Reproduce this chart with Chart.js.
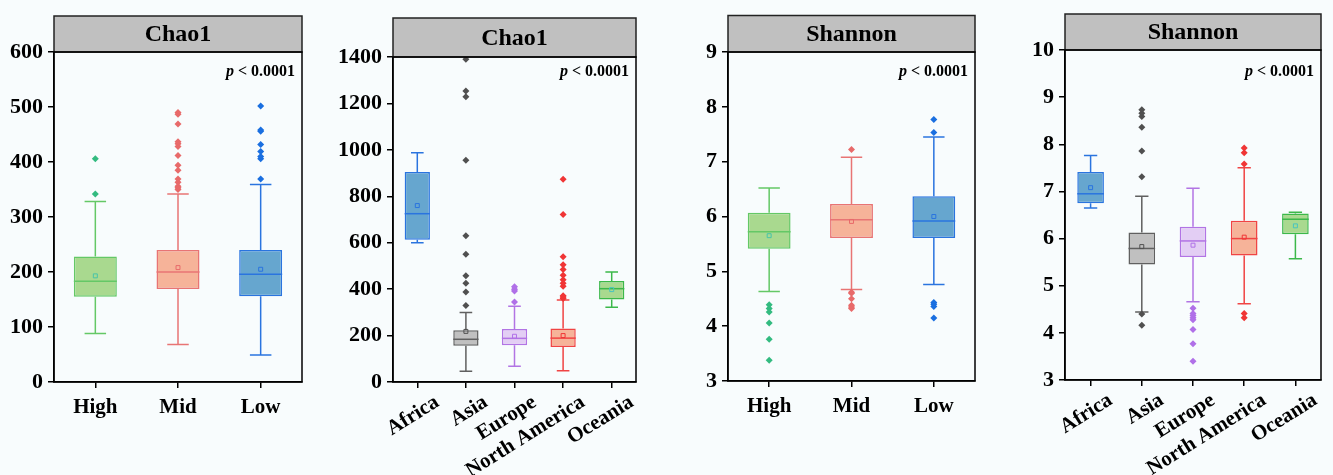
<!DOCTYPE html>
<html>
<head>
<meta charset="utf-8">
<script src="https://cdn.jsdelivr.net/npm/chart.js@4.4.1/dist/chart.umd.min.js"></script>
<style>
  body { margin: 0; background: #f8fcfd; }
  canvas { position: absolute; top: 0; }
</style>
</head>
<body>
<canvas id="chaoIncome" width="333" height="475" style="left:0px"></canvas>
<canvas id="chaoContinent" width="333" height="475" style="left:333px"></canvas>
<canvas id="shannonIncome" width="334" height="475" style="left:666px"></canvas>
<canvas id="shannonContinent" width="333" height="475" style="left:1000px"></canvas>
<script>
// categories
var incomeGroups = ['High', 'Mid', 'Low'];
var continents = ['Africa', 'Asia', 'Europe', 'North America', 'Oceania'];

// Chao1 by income
var chaoIncQ1 = [155, 169, 156];
var chaoIncQ3 = [228, 240, 240];
var chaoIncMedian = [183, 200, 196];
var chaoIncMean = [193, 208, 205];
var chaoIncLow = [88, 68, 49];
var chaoIncHigh = [328, 342, 359];
var chaoIncOutliers = [
  [342, 406],
  [350, 353, 356, 363, 369, 385, 394, 412, 428, 433, 437, 469, 487, 490],
  [369, 406, 410, 419, 432, 456, 458, 502]
];

// Chao1 by continent
var chaoConQ1 = [613, 156, 158, 151, 355];
var chaoConQ3 = [905, 223, 228, 231, 435];
var chaoConMedian = [725, 184, 188, 189, 402];
var chaoConMean = [760, 218, 197, 200, 398];
var chaoConLow = [600, 46, 68, 49, 322];
var chaoConHigh = [988, 299, 326, 353, 474];
var chaoConOutliers = [
  [],
  [330, 388, 425, 458, 550, 630, 955, 1229, 1254, 1390],
  [345, 392, 400, 410],
  [360, 366, 372, 412, 425, 440, 460, 485, 505, 540, 722, 873],
  []
];

// Shannon by income
var shanIncQ1 = [5.41, 5.61, 5.61];
var shanIncQ3 = [6.07, 6.23, 6.37];
var shanIncMedian = [5.72, 5.94, 5.92];
var shanIncMean = [5.65, 5.91, 6.00];
var shanIncLow = [4.63, 4.67, 4.76];
var shanIncHigh = [6.52, 7.08, 7.45];
var shanIncOutliers = [
  [4.39, 4.32, 4.26, 4.06, 3.76, 3.38],
  [7.22, 4.62, 4.60, 4.50, 4.38, 4.35, 4.32],
  [7.53, 7.77, 4.43, 4.40, 4.36, 4.15]
];

// Shannon by continent
var shanConQ1 = [6.75, 5.45, 5.61, 5.64, 6.09];
var shanConQ3 = [7.41, 6.13, 6.25, 6.38, 6.53];
var shanConMedian = [6.95, 5.79, 5.95, 6.00, 6.41];
var shanConMean = [7.08, 5.83, 5.86, 6.03, 6.27];
var shanConLow = [6.65, 4.44, 4.66, 4.62, 5.57];
var shanConHigh = [7.76, 6.90, 7.07, 7.50, 6.56];
var shanConOutliers = [
  [],
  [4.40, 4.16, 7.31, 7.86, 8.36, 8.59, 8.66, 8.73],
  [4.52, 4.41, 4.37, 4.32, 4.28, 4.07, 3.77, 3.40],
  [4.41, 4.32, 7.58, 7.82, 7.92],
  []
];

// colours
var incomeFill = ['#a9d98f', '#f6b399', '#66a6cf'];
var incomeLine = ['#64c866', '#e87474', '#2a74df'];
var incomePoint = ['#33bb80', '#e86a6a', '#1a6fe0'];
var incomeMean = ['#48c4a8', '#e86a6a', '#2a74df'];
var continentFill = ['#66a6cf', '#c0c0c0', '#e3cef4', '#f6b399', '#a9d98f'];
var continentLine = ['#2a74df', '#606060', '#b274e4', '#f04444', '#3cb84a'];
var continentPoint = ['#2a74df', '#505050', '#b070e8', '#f03535', '#3cb84a'];
var continentMean = ['#2a74df', '#505050', '#b070e8', '#f03535', '#48c4c0'];

var serif = '"Liberation Serif", "Times New Roman", serif';

function boxExtras(d, titleH) {
  return {
    id: 'boxExtras',
    beforeDatasetsDraw: function(chart) {
      var ctx = chart.ctx, y = chart.scales.y;
      var meta = chart.getDatasetMeta(0);
      ctx.save();
      ctx.lineWidth = 1.5;
      d.q1.forEach(function(v, i) {
        var bar = meta.data[i];
        var cx = bar.x, half = bar.width / 4;
        var yHi = y.getPixelForValue(d.hi[i]), yLo = y.getPixelForValue(d.lo[i]);
        ctx.strokeStyle = d.line[i];
        ctx.beginPath();
        ctx.moveTo(cx, y.getPixelForValue(d.q3[i])); ctx.lineTo(cx, yHi);
        ctx.moveTo(cx, y.getPixelForValue(d.q1[i])); ctx.lineTo(cx, yLo);
        ctx.moveTo(cx - half, yHi); ctx.lineTo(cx + half, yHi);
        ctx.moveTo(cx - half, yLo); ctx.lineTo(cx + half, yLo);
        ctx.stroke();
      });
      ctx.restore();
    },
    afterDatasetDraw: function(chart, args) {
      if (args.index !== 0) return;
      var ctx = chart.ctx, y = chart.scales.y;
      ctx.save();
      ctx.lineWidth = 1.5;
      args.meta.data.forEach(function(bar, i) {
        var py = y.getPixelForValue(d.median[i]);
        ctx.strokeStyle = d.line[i];
        ctx.beginPath();
        ctx.moveTo(bar.x - bar.width / 2, py);
        ctx.lineTo(bar.x + bar.width / 2, py);
        ctx.stroke();
      });
      ctx.restore();
    },
    afterDraw: function(chart) {
      var ctx = chart.ctx, a = chart.chartArea;
      ctx.save();
      // header box
      ctx.fillStyle = '#c0c0c0';
      ctx.fillRect(a.left, a.top - titleH, a.right - a.left, titleH);
      ctx.strokeStyle = '#222';
      ctx.lineWidth = 1.5;
      ctx.strokeRect(a.left, a.top - titleH, a.right - a.left, titleH);
      ctx.fillStyle = '#000';
      ctx.font = 'bold 24px ' + serif;
      ctx.textAlign = 'center';
      ctx.textBaseline = 'middle';
      ctx.fillText(d.title, (a.left + a.right) / 2, a.top - titleH / 2 + 1);
      // frame
      ctx.strokeStyle = '#000';
      ctx.strokeRect(a.left, a.top, a.right - a.left, a.bottom - a.top);
      // p value
      ctx.textBaseline = 'alphabetic';
      ctx.textAlign = 'left';
      ctx.font = 'bold 16px ' + serif;
      var rest = ' < 0.0001';
      var wRest = ctx.measureText(rest).width;
      ctx.font = 'italic bold 16px ' + serif;
      var wP = ctx.measureText('p').width;
      var x0 = a.right - 7 - wRest - wP;
      ctx.fillText('p', x0, 76);
      ctx.font = 'bold 16px ' + serif;
      ctx.fillText(rest, x0 + wP, 76);
      ctx.restore();
    }
  };
}

function makePanel(id, d, lay) {
  var datasets = [{
    type: 'bar',
    data: d.q1.map(function(v, i) { return [v, d.q3[i]]; }),
    backgroundColor: d.fill,
    borderColor: d.line,
    borderWidth: 1.5,
    borderSkipped: false,
    barPercentage: 0.52,
    categoryPercentage: 1,
    order: 3
  }, {
    type: 'line',
    data: d.mean,
    showLine: false,
    pointStyle: 'rect',
    pointRadius: 2.8,
    pointBackgroundColor: 'rgba(0,0,0,0)',
    pointBorderColor: d.meanColor,
    pointBorderWidth: 1,
    order: 1
  }];
  d.outliers.forEach(function(list, i) {
    datasets.push({
      type: 'line',
      data: list.map(function(v) { return { x: d.labels[i], y: v }; }),
      showLine: false,
      pointStyle: 'rectRot',
      pointRadius: 3.5,
      pointBackgroundColor: d.point[i],
      pointBorderWidth: 0,
      order: 2
    });
  });

  new Chart(document.getElementById(id), {
    type: 'bar',
    data: { labels: d.labels, datasets: datasets },
    options: {
      responsive: false,
      animation: false,
      events: [],
      layout: { padding: { left: 0, right: lay.right, top: lay.top, bottom: 0 } },
      plugins: { legend: { display: false }, tooltip: { enabled: false } },
      scales: {
        x: {
          type: 'category',
          offset: true,
          grid: { offset: false, drawOnChartArea: false, tickLength: 6, color: '#000', lineWidth: 1.5 },
          border: { color: '#000', width: 1.5 },
          ticks: {
            color: '#000', font: { family: serif, size: 21, weight: 'bold' },
            padding: lay.rot ? 2 : 7, autoSkip: false,
            minRotation: lay.rot, maxRotation: lay.rot, labelOffset: lay.labelOffset
          },
          afterFit: function(s) { s.height = lay.xH; }
        },
        y: {
          min: d.min, max: d.max,
          grid: { drawOnChartArea: false, tickLength: 6, color: '#000', lineWidth: 1.5 },
          border: { color: '#000', width: 1.5 },
          ticks: {
            stepSize: d.step, color: '#000', font: { family: serif, size: 22, weight: 'bold' }, padding: 5,
            callback: function(v) { return String(v); }
          },
          afterFit: function(s) { s.width = lay.yW; }
        }
      }
    },
    plugins: [boxExtras(d, lay.titleH)]
  });
}

makePanel('chaoIncome', {
  title: 'Chao1', labels: incomeGroups, min: 0, max: 600, step: 100,
  q1: chaoIncQ1, q3: chaoIncQ3, median: chaoIncMedian, mean: chaoIncMean,
  lo: chaoIncLow, hi: chaoIncHigh, outliers: chaoIncOutliers,
  fill: incomeFill, line: incomeLine, point: incomePoint, meanColor: incomeMean
}, { yW: 54, right: 31, top: 52, xH: 93, titleH: 36, rot: 0, labelOffset: 0 });

makePanel('chaoContinent', {
  title: 'Chao1', labels: continents, min: 0, max: 1400, step: 200,
  q1: chaoConQ1, q3: chaoConQ3, median: chaoConMedian, mean: chaoConMean,
  lo: chaoConLow, hi: chaoConHigh, outliers: chaoConOutliers,
  fill: continentFill, line: continentLine, point: continentPoint, meanColor: continentMean
}, { yW: 60, right: 30, top: 57, xH: 93, titleH: 39, rot: 32, labelOffset: 20 });

makePanel('shannonIncome', {
  title: 'Shannon', labels: incomeGroups, min: 3, max: 9, step: 1,
  q1: shanIncQ1, q3: shanIncQ3, median: shanIncMedian, mean: shanIncMean,
  lo: shanIncLow, hi: shanIncHigh, outliers: shanIncOutliers,
  fill: incomeFill, line: incomeLine, point: incomePoint, meanColor: incomeMean
}, { yW: 62, right: 25, top: 52, xH: 94, titleH: 36.5, rot: 0, labelOffset: 0 });

makePanel('shannonContinent', {
  title: 'Shannon', labels: continents, min: 3, max: 10, step: 1,
  q1: shanConQ1, q3: shanConQ3, median: shanConMedian, mean: shanConMean,
  lo: shanConLow, hi: shanConHigh, outliers: shanConOutliers,
  fill: continentFill, line: continentLine, point: continentPoint, meanColor: continentMean
}, { yW: 65, right: 12, top: 50, xH: 95, titleH: 36, rot: 32, labelOffset: 20 });
</script>
</body>
</html>
